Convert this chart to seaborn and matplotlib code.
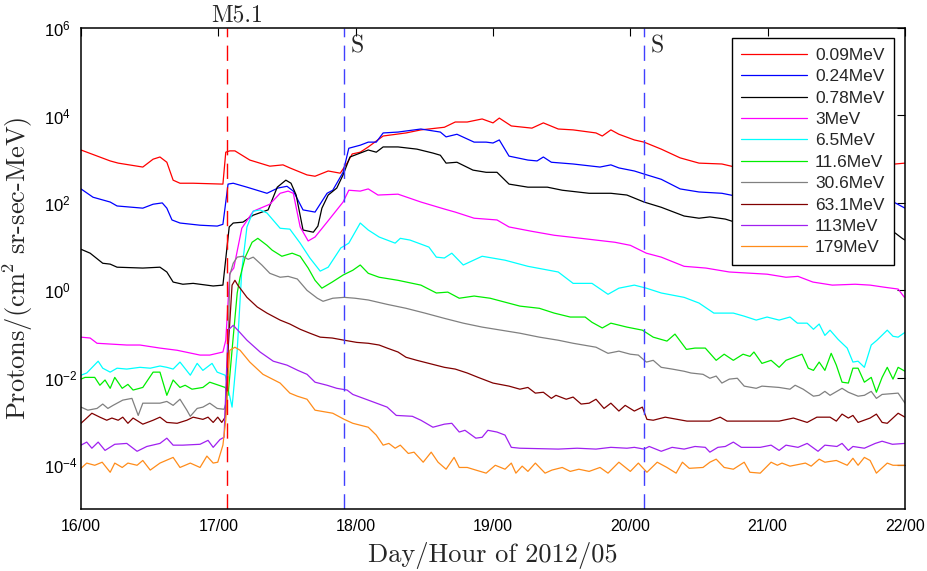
import numpy as np
import pandas as pd
import matplotlib
matplotlib.use("Agg")
import matplotlib.pyplot as plt
import matplotlib.transforms as mtransforms
from matplotlib.ticker import FixedLocator, FixedFormatter, NullLocator
import seaborn as sns

# ---------------- data (hours since 2012/05/16 00:00, log10 flux) ----------------
labels = ["0.09MeV", "0.24MeV", "0.78MeV", "3MeV", "6.5MeV",
          "11.6MeV", "30.6MeV", "63.1MeV", "113MeV", "179MeV"]
colors = ["#ff0000", "#0000ff", "#000000", "#ff00ff", "#00ffff",
          "#00ee00", "#808080", "#800000", "#a020f0", "#ff8c1a"]

h_009 = [0, 5.1, 6.5, 10.8, 12.6, 13.8, 15.0, 16.1, 17.3, 19.6, 24.8, 25.3, 26.0, 26.9, 29.5, 33.0, 35.3, 36.5, 39.5, 40.9,
         43.2, 45.3, 46.5, 47.4, 48.8, 50.2, 52.8, 56.8, 59.4, 63.5, 65.4, 67.5, 70.1, 72.0, 73.1, 75.2, 78.8, 80.8, 83.4, 86.0,
         90.0, 91.1, 92.6, 94.0, 96.7, 98.4, 101.4, 104.7, 108.0, 112.0, 114.3, 122, 129, 136, 142.3, 144]
lg_009 = [3.21, 2.96, 2.91, 2.82, 3.00, 3.05, 2.93, 2.52, 2.45, 2.45, 2.43, 3.16, 3.19, 3.19, 2.98, 2.84, 2.87, 2.80, 2.64, 2.61,
          2.73, 2.68, 2.91, 3.12, 3.16, 3.28, 3.53, 3.60, 3.67, 3.73, 3.85, 3.85, 3.92, 3.83, 3.94, 3.76, 3.71, 3.83, 3.69, 3.67,
          3.60, 3.53, 3.67, 3.57, 3.44, 3.39, 3.23, 3.03, 2.91, 2.89, 2.82, 2.80, 2.84, 2.80, 2.89, 2.91]

h_024 = [0, 2.1, 5.1, 6.3, 10.8, 12.6, 14.2, 15.0, 15.9, 17.3, 20.8, 23.8, 24.8, 25.7, 26.6, 29.0, 32.5, 34.4, 36.0, 37.1,
         38.8, 40.9, 43.0, 44.0, 45.8, 46.8, 48.8, 50.2, 51.6, 52.8, 55.4, 59.4, 62.8, 63.8, 65.7, 68.7, 70.8, 72.0, 73.1, 74.8,
         78.1, 79.7, 80.8, 82.2, 86.0, 90.7, 92.6, 94.0, 96.7, 98.4, 101.4, 104.7, 108.0, 112.0, 114.3, 125.7, 136, 142.3, 144]
lg_024 = [2.32, 2.13, 2.02, 1.93, 1.88, 1.97, 2.00, 1.88, 1.61, 1.54, 1.49, 1.47, 1.51, 2.43, 2.45, 2.36, 2.22, 2.34, 2.38, 2.27,
          1.84, 1.79, 2.22, 2.29, 2.70, 3.25, 3.32, 3.39, 3.39, 3.60, 3.62, 3.69, 3.62, 3.51, 3.57, 3.39, 3.39, 3.37, 3.44, 3.07,
          2.98, 2.96, 3.05, 2.93, 2.89, 2.82, 2.87, 2.80, 2.73, 2.66, 2.54, 2.32, 2.25, 2.22, 2.16, 2.11, 2.06, 2.00, 1.88]

h_078 = [0, 1.6, 3.8, 5.1, 6.3, 10.8, 13.8, 15.0, 16.1, 17.8, 19.6, 23.1, 24.8, 25.9, 26.6, 28.3, 30.1, 32.7, 34.3, 35.8,
         36.7, 37.6, 38.8, 40.6, 41.4, 42.1, 43.2, 44.7, 45.8, 47.0, 48.8, 50.2, 51.6, 52.8, 55.4, 58.7, 61.5, 62.8, 63.8, 65.7,
         68.5, 70.8, 72.7, 74.8, 78.1, 81.5, 84.1, 88.8, 92.6, 95.4, 98.4, 101.4, 105.4, 108.0, 109.9, 112.6, 114.3, 125.7, 136, 142.3,
         143.5, 144]
lg_078 = [0.94, 0.85, 0.62, 0.60, 0.53, 0.51, 0.53, 0.42, 0.19, 0.14, 0.16, 0.10, 0.12, 1.45, 1.54, 1.56, 1.72, 1.84, 2.36, 2.52,
          2.45, 2.18, 1.38, 1.33, 1.47, 1.88, 2.18, 2.34, 2.64, 3.05, 3.14, 3.21, 3.16, 3.28, 3.28, 3.23, 3.14, 3.09, 2.91, 2.93,
          2.75, 2.70, 2.70, 2.43, 2.36, 2.36, 2.29, 2.22, 2.22, 2.18, 2.02, 1.90, 1.70, 1.65, 1.68, 1.63, 1.56, 1.47, 1.40, 1.31,
          1.19, 1.15]

h_3 = [0, 1.6, 2.8, 8.0, 10.3, 13.8, 16.8, 20.8, 22.5, 24.8, 25.3, 26.0, 26.7, 28.1, 30.1, 33.0, 34.8, 36.2, 37.1, 38.3,
       39.7, 40.9, 43.0, 45.8, 46.8, 48.8, 50.2, 51.9, 55.4, 59.4, 63.5, 65.4, 68.7, 72.7, 74.8, 78.8, 82.7, 87.4, 90.0, 93.3,
       96.0, 98.8, 101.4, 105.4, 109.2, 113.3, 119.9, 123.2, 125.3, 127.9, 131.3, 135.3, 137.9, 140.5, 142.8, 143.9]
lg_3 = [-1.07, -1.09, -1.21, -1.25, -1.25, -1.32, -1.37, -1.48, -1.48, -1.41, -1.14, 0.39, 0.51, 1.42, 1.81, 1.97, 2.22, 2.27, 2.22, 1.45,
        1.13, 1.22, 1.56, 2.02, 2.29, 2.27, 2.32, 2.18, 2.20, 2.02, 1.86, 1.79, 1.65, 1.61, 1.45, 1.35, 1.26, 1.19, 1.15, 1.10,
        1.03, 0.85, 0.76, 0.55, 0.51, 0.42, 0.37, 0.30, 0.32, 0.19, 0.12, 0.14, 0.12, 0.07, 0.03, -0.16]

h_65 = [0, 1.0, 3.0, 3.8, 5.1, 6.3, 8.0, 10.3, 12.1, 13.8, 15.0, 16.1, 17.3, 19.1, 20.3, 21.3, 22.9, 23.8, 25.2, 26.4,
        27.3, 28.1, 29.0, 30.1, 31.3, 32.5, 34.8, 36.5, 38.3, 40.0, 41.8, 43.2, 45.4, 46.8, 48.8, 50.2, 52.1, 54.9, 55.8, 57.5,
        60.8, 62.1, 63.5, 64.8, 66.8, 70.1, 74.1, 78.1, 83.4, 86.0, 89.3, 92.1, 94.0, 96.7, 98.8, 101.4, 105.4, 108.0, 110.6, 112.0,
        114.0, 115.9, 118.0, 119.9, 122.0, 123.9, 125.2, 126.9, 128.0, 129.0, 130.0, 130.9, 132.3, 133.9, 134.9, 135.8, 136.9, 138.1, 139.1, 140.9,
        141.9, 142.8, 144]
lg_65 = [-1.94, -1.89, -1.62, -1.78, -1.87, -1.78, -1.80, -1.76, -1.78, -1.73, -1.76, -1.80, -1.64, -1.94, -1.67, -1.83, -1.67, -1.87, -1.94, -2.67,
         -1.37, 0.46, 1.45, 1.81, 1.84, 1.77, 1.42, 1.40, 1.08, 0.74, 0.44, 0.53, 0.97, 1.08, 1.54, 1.38, 1.22, 1.08, 1.19, 1.15,
         0.99, 0.76, 0.74, 0.85, 0.58, 0.78, 0.69, 0.55, 0.42, 0.16, 0.16, -0.09, 0.05, 0.12, 0.05, -0.06, -0.16, -0.29, -0.52, -0.52,
         -0.52, -0.59, -0.68, -0.61, -0.68, -0.61, -0.75, -0.75, -0.89, -0.77, -1.03, -0.91, -1.12, -1.32, -1.64, -1.62, -1.76, -1.25, -1.14, -0.91,
         -1.05, -1.07, -0.96]

h_116 = [0, 0.7, 2.4, 3.3, 4.2, 5.1, 5.9, 7.2, 8.2, 9.1, 10.8, 12.6, 13.8, 15.0, 16.1, 17.3, 18.2, 19.4, 21.3, 22.5,
         25.2, 25.7, 26.6, 27.3, 27.8, 28.7, 29.9, 30.9, 32.5, 33.4, 35.1, 36.9, 38.3, 39.7, 40.9, 42.1, 43.9, 45.8, 47.5, 48.8,
         50.2, 52.1, 55.4, 59.4, 62.1, 64.1, 66.1, 68.7, 71.5, 74.1, 76.7, 80.1, 82.7, 85.5, 88.1, 89.3, 91.1, 92.6, 95.4, 98.1,
         100.0, 102.4, 103.8, 105.8, 107.3, 109.1, 111.0, 112.4, 114.0, 115.7, 116.9, 117.6, 119.0, 120.6, 122.0, 123.2, 126.0, 127.1, 128.0, 129.0,
         130.0, 131.1, 132.0, 133.0, 134.1, 134.9, 135.8, 136.9, 138.1, 139.0, 140.0, 140.9, 141.9, 142.8, 144]
lg_116 = [-2.03, -1.99, -1.99, -2.17, -2.05, -2.24, -1.99, -2.24, -2.15, -2.28, -2.22, -1.87, -1.87, -2.40, -2.05, -2.22, -2.17, -2.26, -2.22, -2.10,
          -2.22, -2.40, -1.07, -0.06, 0.30, 0.76, 1.10, 1.19, 1.03, 0.92, 0.78, 0.85, 0.78, 0.51, 0.23, 0.05, 0.19, 0.35, 0.46, 0.58,
          0.39, 0.30, 0.23, 0.12, -0.06, -0.04, -0.18, -0.13, -0.18, -0.27, -0.36, -0.41, -0.52, -0.61, -0.61, -0.73, -0.86, -0.75, -0.84, -0.91,
          -1.07, -1.16, -1.00, -1.35, -1.32, -1.32, -1.60, -1.46, -1.60, -1.46, -1.51, -1.41, -1.67, -1.60, -1.76, -1.60, -1.46, -1.78, -1.83, -1.64,
          -1.83, -1.44, -1.71, -2.10, -2.12, -1.78, -1.78, -2.10, -1.99, -2.33, -1.99, -1.76, -2.03, -1.76, -1.85]

h_306 = [0, 1.2, 2.8, 3.8, 4.7, 5.6, 7.3, 8.9, 10.0, 10.8, 13.8, 15.0, 16.1, 17.3, 18.5, 19.1, 20.3, 21.3, 22.5, 23.8,
         25.0, 25.5, 26.0, 26.6, 27.3, 28.3, 29.2, 30.1, 31.6, 33.0, 34.8, 36.2, 37.8, 39.5, 41.3, 42.3, 44.0, 46.0, 47.9, 50.2,
         53.5, 56.8, 60.1, 63.5, 66.8, 70.1, 73.4, 76.7, 80.1, 83.4, 86.0, 90.0, 92.1, 94.0, 96.0, 97.4, 98.8, 100.0, 101.4, 103.3,
         105.4, 106.6, 108.7, 109.9, 111.0, 112.0, 113.3, 114.7, 115.9, 118.0, 119.0, 122.0, 123.9, 124.8, 126.2, 128.0, 129.0, 130.0, 130.9, 133.0,
         134.1, 135.8, 136.9, 138.1, 139.0, 140.0, 142.8, 144]
lg_306 = [-2.67, -2.74, -2.70, -2.60, -2.70, -2.63, -2.51, -2.47, -2.86, -2.58, -2.58, -2.54, -2.63, -2.49, -2.74, -2.88, -2.70, -2.67, -2.58, -2.70,
          -2.72, -2.51, 0.35, 0.62, 0.76, 0.78, 0.71, 0.76, 0.58, 0.39, 0.30, 0.32, 0.26, 0.00, -0.18, -0.25, -0.18, -0.16, -0.18, -0.22,
          -0.32, -0.41, -0.52, -0.64, -0.75, -0.84, -0.91, -0.98, -1.07, -1.14, -1.21, -1.30, -1.44, -1.39, -1.46, -1.48, -1.64, -1.60, -1.76, -1.80,
          -1.85, -1.89, -1.92, -2.01, -1.96, -2.12, -2.03, -2.01, -2.19, -2.24, -2.19, -2.22, -2.26, -2.17, -2.26, -2.42, -2.40, -2.31, -2.40, -2.24,
          -2.33, -2.42, -2.40, -2.31, -2.47, -2.38, -2.35, -2.58]

h_631 = [0, 1.0, 1.9, 3.3, 4.5, 5.4, 6.5, 7.3, 8.2, 9.1, 10.8, 12.6, 13.8, 15.0, 16.8, 18.5, 19.6, 21.3, 22.2, 23.1,
         23.9, 24.6, 25.2, 25.7, 26.4, 26.9, 27.4, 29.0, 30.8, 32.5, 34.8, 36.5, 38.3, 40.0, 41.8, 43.9, 46.0, 48.2, 50.2, 52.1,
         53.5, 55.4, 56.8, 58.7, 60.8, 63.5, 65.4, 67.5, 69.4, 72.0, 74.8, 76.7, 78.1, 79.4, 80.8, 82.2, 83.0, 84.8, 86.0, 87.4,
         88.8, 90.0, 91.4, 92.6, 94.0, 95.1, 96.7, 98.1, 98.9, 100.0, 102.1, 105.9, 109.9, 111.7, 112.9, 122.0, 124.5, 126.9, 128.6, 130.9,
         132.0, 133.0, 134.1, 134.9, 135.8, 137.9, 139.0, 140.0, 140.9, 142.8, 144]
lg_631 = [-3.04, -2.92, -2.81, -2.90, -2.97, -2.92, -2.97, -2.90, -3.04, -2.92, -3.06, -2.97, -2.90, -3.02, -3.04, -2.97, -2.90, -2.95, -2.90, -3.02,
          -2.90, -3.02, -2.90, -1.37, 0.12, 0.23, 0.12, -0.16, -0.38, -0.52, -0.68, -0.77, -0.89, -0.98, -1.07, -1.09, -1.14, -1.19, -1.21, -1.25,
          -1.32, -1.41, -1.53, -1.60, -1.67, -1.76, -1.80, -1.89, -1.99, -2.12, -2.19, -2.26, -2.22, -2.35, -2.33, -2.47, -2.40, -2.49, -2.44, -2.60,
          -2.58, -2.49, -2.70, -2.58, -2.76, -2.63, -2.76, -2.67, -2.95, -2.97, -2.90, -2.99, -2.99, -2.90, -2.99, -2.99, -2.92, -3.02, -2.90, -2.90,
          -2.99, -2.83, -2.92, -2.86, -3.02, -2.92, -2.83, -3.02, -3.04, -2.81, -2.90]

h_113 = [0, 1.0, 1.9, 3.0, 4.2, 5.9, 8.0, 9.8, 11.5, 13.8, 15.0, 16.1, 17.8, 20.8, 22.2, 23.1, 24.3, 25.0, 25.7, 26.6,
         27.4, 29.0, 31.3, 33.6, 36.0, 37.9, 39.5, 40.9, 43.0, 44.7, 46.5, 47.5, 50.2, 53.5, 55.1, 57.9, 59.4, 61.5, 63.5, 64.8,
         66.1, 67.1, 69.0, 70.1, 71.1, 72.7, 74.1, 75.2, 76.7, 83.4, 86.7, 90.0, 92.6, 95.4, 96.7, 98.4, 99.3, 101.4, 103.3, 105.4,
         107.3, 109.1, 109.9, 111.3, 112.6, 114.0, 115.4, 118.7, 120.6, 122.0, 123.2, 125.3, 126.9, 128.8, 130.0, 132.1, 133.0, 134.1, 134.9, 136.9,
         138.8, 140.0, 141.8, 144]
lg_113 = [-3.54, -3.47, -3.61, -3.47, -3.66, -3.52, -3.50, -3.68, -3.57, -3.50, -3.38, -3.54, -3.54, -3.52, -3.43, -3.59, -3.41, -3.36, -0.91, -0.80,
          -0.91, -1.14, -1.41, -1.62, -1.71, -1.83, -1.92, -2.10, -2.17, -2.24, -2.28, -2.38, -2.51, -2.67, -2.86, -2.88, -2.97, -3.13, -3.06, -3.04,
          -3.24, -3.20, -3.38, -3.36, -3.20, -3.24, -3.31, -3.59, -3.61, -3.63, -3.61, -3.63, -3.59, -3.61, -3.59, -3.63, -3.57, -3.68, -3.59, -3.63,
          -3.57, -3.59, -3.70, -3.59, -3.57, -3.47, -3.59, -3.59, -3.54, -3.66, -3.54, -3.59, -3.50, -3.68, -3.54, -3.57, -3.50, -3.66, -3.57, -3.61,
          -3.50, -3.45, -3.52, -3.50]

h_179 = [0, 1.0, 2.4, 3.7, 5.1, 5.9, 7.2, 8.2, 9.8, 10.8, 12.1, 13.8, 16.1, 17.3, 19.1, 20.8, 22.0, 23.1, 23.9, 24.8,
         25.3, 26.0, 26.9, 27.8, 29.5, 31.8, 34.8, 36.5, 37.8, 39.5, 40.9, 44.0, 46.0, 47.5, 50.2, 51.6, 52.8, 53.8, 54.9, 55.8,
         57.2, 58.2, 59.8, 61.2, 62.4, 63.8, 65.2, 66.1, 67.5, 69.0, 70.8, 72.4, 74.1, 75.2, 76.0, 77.1, 78.1, 79.4, 81.1, 82.3,
         84.1, 85.5, 87.0, 88.8, 90.7, 92.1, 94.0, 96.0, 97.4, 98.9, 100.7, 102.4, 104.0, 105.1, 106.3, 108.7, 109.9, 111.0, 112.4, 114.0,
         115.9, 116.9, 118.7, 120.6, 121.7, 122.5, 123.9, 126.6, 127.6, 129.0, 130.0, 132.0, 133.9, 134.9, 135.8, 136.9, 137.9, 139.0, 140.9, 141.9,
         144]
lg_179 = [-4.07, -3.95, -4.00, -3.93, -4.16, -3.95, -4.05, -3.95, -4.00, -3.89, -4.11, -3.95, -3.82, -4.05, -3.95, -4.05, -3.79, -3.95, -3.93, -3.54,
          -2.97, -1.37, -1.30, -1.37, -1.64, -1.92, -2.12, -2.35, -2.42, -2.49, -2.74, -2.81, -2.95, -3.04, -3.13, -3.31, -3.54, -3.50, -3.61, -3.54,
          -3.73, -3.70, -3.93, -3.70, -3.93, -4.09, -3.82, -4.05, -4.05, -4.11, -4.18, -4.00, -4.09, -3.95, -4.18, -4.02, -4.14, -3.95, -4.18, -4.11,
          -4.05, -4.14, -4.09, -4.14, -4.05, -4.18, -3.93, -4.14, -3.95, -4.16, -3.93, -4.05, -4.18, -3.93, -4.07, -4.05, -3.93, -3.86, -4.05, -4.09,
          -3.93, -4.16, -4.18, -3.93, -4.00, -3.95, -4.02, -3.95, -4.02, -3.86, -3.93, -3.89, -4.00, -3.84, -4.00, -3.82, -3.89, -4.18, -3.95, -4.00,
          -4.00]

hours_list = [h_009, h_024, h_078, h_3, h_65, h_116, h_306, h_631, h_113, h_179]
logs_list = [lg_009, lg_024, lg_078, lg_3, lg_65, lg_116, lg_306, lg_631, lg_113, lg_179]

x_ticks = [0, 24, 48, 72, 96, 120, 144]
x_ticklabels = ["16/00", "17/00", "18/00", "19/00", "20/00", "21/00", "22/00"]
y_ticks = [1e-4, 1e-2, 1e0, 1e2, 1e4, 1e6]
y_ticklabels = [r"$\mathsf{10^{-4}}$", r"$\mathsf{10^{-2}}$", r"$\mathsf{10^{0}}$",
                r"$\mathsf{10^{2}}$", r"$\mathsf{10^{4}}$", r"$\mathsf{10^{6}}$"]

flare_hour = 25.5
shock_hours = [46.0, 98.4]

# ---------------- style ----------------
sns.set_theme(style="white")
plt.rcParams["font.family"] = ["Liberation Sans", "DejaVu Sans"]
plt.rcParams["mathtext.fontset"] = "custom"
plt.rcParams["mathtext.rm"] = "cmr10"
plt.rcParams["mathtext.sf"] = "Liberation Sans"
plt.rcParams["axes.unicode_minus"] = True

fig, ax = plt.subplots(figsize=(9.27, 5.71), dpi=100)
fig.subplots_adjust(left=81/927, right=905/927, top=1-28/571, bottom=1-509/571)

for lab, col, hh, lg in zip(labels, colors, hours_list, logs_list):
    df = pd.DataFrame({"hour": hh, "flux": 10.0 ** np.array(lg)})
    sns.lineplot(data=df, x="hour", y="flux", color=col, linewidth=0.9,
                 label=lab, ax=ax, estimator=None, sort=False)

ax.set_yscale("log")
ax.set_xlim(0, 144)
ax.set_ylim(1e-5, 1e6)

dash = (0, (11, 6))
ax.axvline(flare_hour, color="#ff0000", lw=1.0, ls=dash)
for sh in shock_hours:
    ax.axvline(sh, color="#4040ff", lw=1.0, ls=dash)

ax.xaxis.set_major_locator(FixedLocator(x_ticks))
ax.xaxis.set_major_formatter(FixedFormatter(x_ticklabels))
ax.yaxis.set_major_locator(FixedLocator(y_ticks))
ax.yaxis.set_major_formatter(FixedFormatter(y_ticklabels))
ax.yaxis.set_minor_locator(NullLocator())
ax.xaxis.set_minor_locator(NullLocator())

ax.tick_params(direction="in", length=6, width=0.8, top=True, right=True, colors="black")
ax.tick_params(axis="x", labelsize=11.5, pad=7)
ax.tick_params(axis="y", labelsize=12, pad=27)
for t in ax.get_yticklabels():
    t.set_horizontalalignment("left")

for s in ax.spines.values():
    s.set_color("black")
    s.set_linewidth(1.1)

ax.set_xlabel("Day/Hour of 2012/05", fontsize=19, family="cmr10", labelpad=6)
ax.set_ylabel("Protons/(cm$^2$ sr-sec-MeV)", fontsize=19, family="cmr10", labelpad=6)

trans = mtransforms.blended_transform_factory(ax.transData, ax.transAxes)
ax.text(27.3, 1.0125, "M5.1", transform=trans, ha="center", va="baseline",
        fontsize=17, family="cmr10")
ax.text(47.2, 0.950, "S", transform=trans, ha="left", va="baseline", fontsize=17, family="cmr10")
ax.text(99.6, 0.950, "S", transform=trans, ha="left", va="baseline", fontsize=17, family="cmr10")

leg = ax.legend(loc="upper right", bbox_to_anchor=(0.9867, 0.979), borderaxespad=0,
                frameon=True, fancybox=False, framealpha=1, edgecolor="black",
                prop={"family": "Liberation Sans", "size": 12.5},
                handlelength=3.8, handletextpad=0.45, labelspacing=0.36, borderpad=0.55)
leg.get_frame().set_linewidth(1.0)

fig.savefig("out.png", dpi=100)
